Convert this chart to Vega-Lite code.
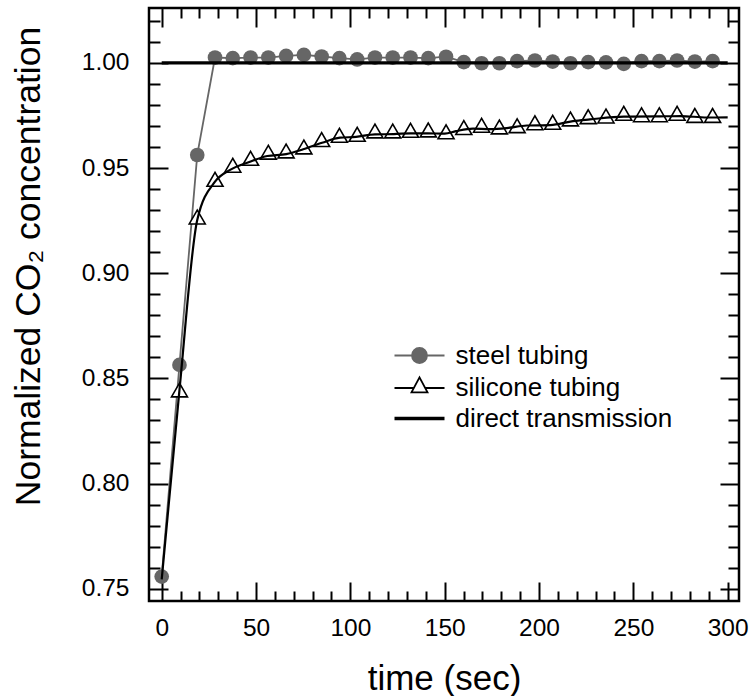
{
  "$schema": "https://vega.github.io/schema/vega-lite/v6.json",
  "width": 590,
  "height": 593,
  "autosize": "none",
  "padding": {"left": 149, "top": 8, "right": 12, "bottom": 95},
  "background": "white",
  "config": {
    "view": {"stroke": "black", "strokeWidth": 2.5},
    "axis": {
      "labelFont": "Liberation Sans",
      "labelFontSize": 24.5,
      "labelColor": "black",
      "titleFont": "Liberation Sans",
      "titleFontSize": 35,
      "titleFontWeight": "normal",
      "titleColor": "black",
      "domain": false,
      "grid": false,
      "ticks": true,
      "tickColor": "black",
      "tickWidth": 2,
      "labelOverlap": false
    }
  },
  "datasets": {
    "steel": [
      {"series": "steel tubing", "t": 0, "v": 0.7558},
      {"series": "steel tubing", "t": 9.42, "v": 0.8564},
      {"series": "steel tubing", "t": 18.84, "v": 0.9562},
      {"series": "steel tubing", "t": 28.26, "v": 1.0025},
      {"series": "steel tubing", "t": 37.68, "v": 1.0022},
      {"series": "steel tubing", "t": 47.1, "v": 1.0025},
      {"series": "steel tubing", "t": 56.52, "v": 1.0025},
      {"series": "steel tubing", "t": 65.94, "v": 1.0033},
      {"series": "steel tubing", "t": 75.36, "v": 1.0038},
      {"series": "steel tubing", "t": 84.78, "v": 1.003},
      {"series": "steel tubing", "t": 94.2, "v": 1.0022},
      {"series": "steel tubing", "t": 103.62, "v": 1.0016},
      {"series": "steel tubing", "t": 113.04, "v": 1.0025},
      {"series": "steel tubing", "t": 122.46, "v": 1.0025},
      {"series": "steel tubing", "t": 131.88, "v": 1.0025},
      {"series": "steel tubing", "t": 141.3, "v": 1.0022},
      {"series": "steel tubing", "t": 150.72, "v": 1.0029},
      {"series": "steel tubing", "t": 160.14, "v": 1.0003},
      {"series": "steel tubing", "t": 169.56, "v": 0.9998},
      {"series": "steel tubing", "t": 178.98, "v": 0.9998},
      {"series": "steel tubing", "t": 188.4, "v": 1.0008},
      {"series": "steel tubing", "t": 197.82, "v": 1.0011},
      {"series": "steel tubing", "t": 207.24, "v": 1.0006},
      {"series": "steel tubing", "t": 216.66, "v": 0.9998},
      {"series": "steel tubing", "t": 226.08, "v": 1.0003},
      {"series": "steel tubing", "t": 235.5, "v": 1.0002},
      {"series": "steel tubing", "t": 244.92, "v": 0.9995},
      {"series": "steel tubing", "t": 254.34, "v": 1.0008},
      {"series": "steel tubing", "t": 263.76, "v": 1.0008},
      {"series": "steel tubing", "t": 273.18, "v": 1.0011},
      {"series": "steel tubing", "t": 282.6, "v": 1.0006},
      {"series": "steel tubing", "t": 292.02, "v": 1.0008}
    ],
    "silicone": [
      {"series": "silicone tubing", "t": 9.42, "v": 0.8445},
      {"series": "silicone tubing", "t": 18.84, "v": 0.9267},
      {"series": "silicone tubing", "t": 28.26, "v": 0.9446},
      {"series": "silicone tubing", "t": 37.68, "v": 0.9513},
      {"series": "silicone tubing", "t": 47.1, "v": 0.9546},
      {"series": "silicone tubing", "t": 56.52, "v": 0.9575},
      {"series": "silicone tubing", "t": 65.94, "v": 0.9581},
      {"series": "silicone tubing", "t": 75.36, "v": 0.96},
      {"series": "silicone tubing", "t": 84.78, "v": 0.9635},
      {"series": "silicone tubing", "t": 94.2, "v": 0.9655},
      {"series": "silicone tubing", "t": 103.62, "v": 0.966},
      {"series": "silicone tubing", "t": 113.04, "v": 0.9676},
      {"series": "silicone tubing", "t": 122.46, "v": 0.9676},
      {"series": "silicone tubing", "t": 131.88, "v": 0.9679},
      {"series": "silicone tubing", "t": 141.3, "v": 0.9681},
      {"series": "silicone tubing", "t": 150.72, "v": 0.9672},
      {"series": "silicone tubing", "t": 160.14, "v": 0.9692},
      {"series": "silicone tubing", "t": 169.56, "v": 0.9703},
      {"series": "silicone tubing", "t": 178.98, "v": 0.9695},
      {"series": "silicone tubing", "t": 188.4, "v": 0.9701},
      {"series": "silicone tubing", "t": 197.82, "v": 0.9715},
      {"series": "silicone tubing", "t": 207.24, "v": 0.9717},
      {"series": "silicone tubing", "t": 216.66, "v": 0.9733},
      {"series": "silicone tubing", "t": 226.08, "v": 0.9744},
      {"series": "silicone tubing", "t": 235.5, "v": 0.9747},
      {"series": "silicone tubing", "t": 244.92, "v": 0.976},
      {"series": "silicone tubing", "t": 254.34, "v": 0.9753},
      {"series": "silicone tubing", "t": 263.76, "v": 0.9753},
      {"series": "silicone tubing", "t": 273.18, "v": 0.976},
      {"series": "silicone tubing", "t": 282.6, "v": 0.975},
      {"series": "silicone tubing", "t": 292.02, "v": 0.975}
    ],
    "silfit": [
      {"series": "silicone tubing", "t": 0, "v": 0.7545},
      {"series": "silicone tubing", "t": 9.42, "v": 0.8445},
      {"series": "silicone tubing", "t": 18.84, "v": 0.9253},
      {"series": "silicone tubing", "t": 28.26, "v": 0.9435},
      {"series": "silicone tubing", "t": 36, "v": 0.949},
      {"series": "silicone tubing", "t": 46.8, "v": 0.953},
      {"series": "silicone tubing", "t": 56, "v": 0.9557},
      {"series": "silicone tubing", "t": 66, "v": 0.9566},
      {"series": "silicone tubing", "t": 75, "v": 0.9589},
      {"series": "silicone tubing", "t": 85, "v": 0.962},
      {"series": "silicone tubing", "t": 94.5, "v": 0.9644},
      {"series": "silicone tubing", "t": 103, "v": 0.9648},
      {"series": "silicone tubing", "t": 113, "v": 0.966},
      {"series": "silicone tubing", "t": 123, "v": 0.9661},
      {"series": "silicone tubing", "t": 132, "v": 0.9665},
      {"series": "silicone tubing", "t": 141, "v": 0.9665},
      {"series": "silicone tubing", "t": 150, "v": 0.9663},
      {"series": "silicone tubing", "t": 156, "v": 0.9675},
      {"series": "silicone tubing", "t": 165, "v": 0.9687},
      {"series": "silicone tubing", "t": 174, "v": 0.9685},
      {"series": "silicone tubing", "t": 183, "v": 0.969},
      {"series": "silicone tubing", "t": 193.5, "v": 0.9702},
      {"series": "silicone tubing", "t": 206, "v": 0.9704},
      {"series": "silicone tubing", "t": 218, "v": 0.9723},
      {"series": "silicone tubing", "t": 227, "v": 0.9731},
      {"series": "silicone tubing", "t": 245, "v": 0.9744},
      {"series": "silicone tubing", "t": 262, "v": 0.9745},
      {"series": "silicone tubing", "t": 275, "v": 0.9747},
      {"series": "silicone tubing", "t": 289, "v": 0.974},
      {"series": "silicone tubing", "t": 300, "v": 0.9741}
    ],
    "direct": [
      {"series": "direct transmission", "t": 0, "v": 1.0},
      {"series": "direct transmission", "t": 300, "v": 1.0}
    ]
  },
  "resolve": {"axis": {"x": "independent", "y": "independent"}},
  "layer": [
    {
      "data": {"name": "steel"},
      "mark": {"type": "line", "strokeWidth": 1.8, "clip": true},
      "encoding": {
        "x": {
          "field": "t", "type": "quantitative",
          "scale": {"domain": [-6.73, 306.0], "nice": false, "zero": false},
          "axis": {
            "orient": "bottom",
            "title": "time (sec)",
            "values": [0,10,20,30,40,50,60,70,80,90,100,110,120,130,140,150,160,170,180,190,200,210,220,230,240,250,260,270,280,290,300],
            "labelExpr": "datum.value % 50 === 0 ? datum.label : ''",
            "format": "d",
            "tickSize": {"condition": {"test": "datum.value % 50 === 0", "value": -19}, "value": -10},
            "labelPadding": 34.5,
            "titleX": 295,
            "titleY": 88,
            "titleBaseline": "alphabetic",
            "titleAlign": "center"
          }
        },
        "y": {
          "field": "v", "type": "quantitative",
          "scale": {"domain": [0.7442, 1.02605], "nice": false, "zero": false},
          "axis": {
            "orient": "left",
            "title": "Normalized CO₂ concentration",
            "values": [0.75,0.76,0.77,0.78,0.79,0.8,0.81,0.82,0.83,0.84,0.85,0.86,0.87,0.88,0.89,0.9,0.91,0.92,0.93,0.94,0.95,0.96,0.97,0.98,0.99,1.0,1.01,1.02],
            "labelExpr": "round(datum.value*100) % 5 === 0 ? datum.label : ''",
            "format": ".2f",
            "tickSize": {"condition": {"test": "round(datum.value*100) % 5 === 0", "value": -19}, "value": -11},
            "labelPadding": 39,
            "titleX": -110,
            "titleY": 258,
            "titleFontSize": 35.5,
            "titleAngle": -90,
            "titleBaseline": "alphabetic",
            "titleAlign": "center"
          }
        },
        "stroke": {
          "field": "series", "type": "nominal",
          "scale": {"domain": ["steel tubing", "silicone tubing", "direct transmission"], "range": ["#666666", "black", "black"]},
          "legend": {
            "title": null,
            "orient": "none",
            "legendX": 257.5,
            "legendY": 334.5,
            "padding": 0,
            "symbolSize": 400,
            "labelFont": "Liberation Sans",
            "labelFontSize": 26,
            "labelColor": "black",
            "labelLimit": 400,
            "labelOffset": 23,
            "rowPadding": 4.5,
            "encode": {
              "symbols": {
                "update": {
                  "shape": {"signal": "datum.value === 'steel tubing' ? 'M-2.5,0L2.5,0M-0.75,0A0.75,0.75,0,1,1,0.75,0A0.75,0.75,0,1,1,-0.75,0Z' : datum.value === 'silicone tubing' ? 'M-2.5,0L-0.565,0M0.565,0L2.5,0M0,-1.06L-0.8,0.44L0.8,0.44Z' : 'M-2.5,0L2.5,0'"},
                  "fill": {"signal": "datum.value === 'steel tubing' ? '#666666' : datum.value === 'silicone tubing' ? 'white' : 'transparent'"},
                  "stroke": {"signal": "datum.value === 'steel tubing' ? '#666666' : 'black'"},
                  "strokeWidth": {"signal": "datum.value === 'direct transmission' ? 3.3 : 1.8"},
                  "opacity": {"value": 1},
                  "size": {"value": 400}
                }
              }
            }
          }
        }
      }
    },
    {
      "data": {"name": "steel"},
      "mark": {"type": "point", "shape": "circle", "filled": true, "size": 215, "color": "#666666", "opacity": 1},
      "encoding": {
        "x": {"field": "t", "type": "quantitative", "axis": null},
        "y": {"field": "v", "type": "quantitative", "axis": null}
      }
    },
    {
      "data": {"name": "silicone"},
      "mark": {"type": "point", "shape": "triangle-up", "filled": true, "fill": "white", "stroke": "black", "strokeWidth": 1.6, "size": 256, "opacity": 1},
      "encoding": {
        "x": {"field": "t", "type": "quantitative", "axis": null},
        "y": {"field": "v", "type": "quantitative", "axis": null}
      }
    },
    {
      "data": {"name": "silfit"},
      "mark": {"type": "line", "strokeWidth": 2.2, "interpolate": "monotone"},
      "encoding": {
        "x": {"field": "t", "type": "quantitative", "axis": null},
        "y": {"field": "v", "type": "quantitative", "axis": null},
        "stroke": {"field": "series", "type": "nominal"}
      }
    },
    {
      "data": {"name": "direct"},
      "mark": {"type": "line", "strokeWidth": 3.3},
      "encoding": {
        "x": {
          "field": "t", "type": "quantitative",
          "axis": {
            "orient": "top",
            "title": null,
            "labels": false,
            "values": [0,10,20,30,40,50,60,70,80,90,100,110,120,130,140,150,160,170,180,190,200,210,220,230,240,250,260,270,280,290,300],
            "tickSize": {"condition": {"test": "datum.value % 50 === 0", "value": -19}, "value": -10}
          }
        },
        "y": {
          "field": "v", "type": "quantitative",
          "axis": {
            "orient": "right",
            "title": null,
            "labels": false,
            "values": [0.75,0.76,0.77,0.78,0.79,0.8,0.81,0.82,0.83,0.84,0.85,0.86,0.87,0.88,0.89,0.9,0.91,0.92,0.93,0.94,0.95,0.96,0.97,0.98,0.99,1.0,1.01,1.02],
            "tickSize": {"condition": {"test": "round(datum.value*100) % 5 === 0", "value": -19}, "value": -11}
          }
        },
        "stroke": {"field": "series", "type": "nominal"}
      }
    }
  ]
}
